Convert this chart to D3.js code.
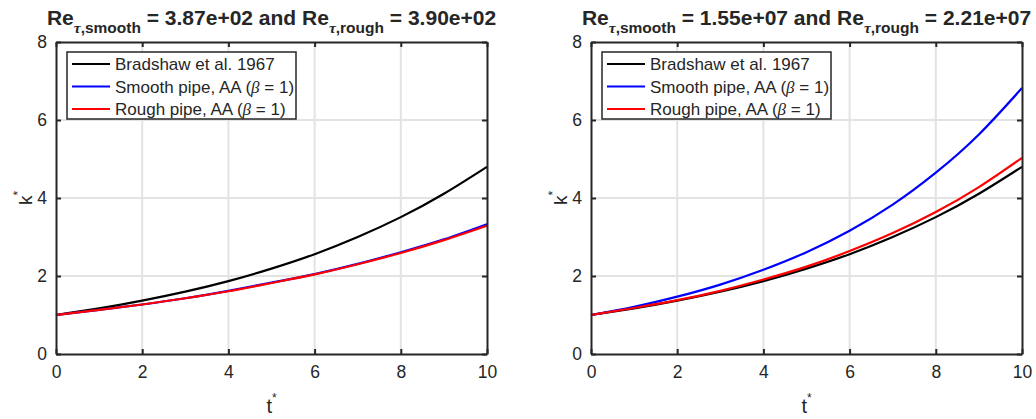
<!DOCTYPE html>
<html>
<head>
<meta charset="utf-8">
<script src="https://cdn.jsdelivr.net/npm/d3@7"></script>
<style>
	body { margin: 0; background: #fff; }
	text { font-family: "Liberation Sans", Arial, Helvetica, sans-serif; fill: #262626; }
</style>
</head>
<body>
<div id="chart-area"></div>
<script>
// data (t* = 0..10)
var tStar = [0, 1, 2, 3, 4, 5, 6, 7, 8, 9, 10];
var bradshaw = [1.00, 1.17, 1.37, 1.60, 1.87, 2.19, 2.56, 3.00, 3.51, 4.11, 4.80];
var smoothLow = [1.00, 1.13, 1.27, 1.43, 1.62, 1.83, 2.05, 2.31, 2.61, 2.94, 3.33];
var roughLow = [1.00, 1.13, 1.27, 1.43, 1.61, 1.82, 2.04, 2.30, 2.59, 2.92, 3.29];
var smoothHigh = [1.00, 1.21, 1.47, 1.78, 2.16, 2.61, 3.16, 3.83, 4.65, 5.63, 6.82];
var roughHigh = [1.00, 1.18, 1.38, 1.62, 1.91, 2.24, 2.64, 3.10, 3.64, 4.28, 5.03];

var reSmooth = ["3.87e+02", "1.55e+07"];
var reRough = ["3.90e+02", "2.21e+07"];

var xTicks = [0, 2, 4, 6, 8, 10];
var yTicks = [0, 2, 4, 6, 8];

var legendLabels = ["Bradshaw et al. 1967", "Smooth pipe, AA (", "Rough pipe, AA ("];
var lineColors = ["#000000", "#0000ff", "#ff0000"];

var panelSeries = [
	[bradshaw, smoothLow, roughLow],
	[bradshaw, smoothHigh, roughHigh]
];

var width = 431, height = 312;
var panelLeft = [56, 591], panelTop = 42;

var svg = d3.select("#chart-area")
	.append("svg")
		.attr("width", 1036)
		.attr("height", 419);

var x = d3.scaleLinear().domain([0, 10]).range([0, width]);
var y = d3.scaleLinear().domain([0, 8]).range([height, 0]);

var line = d3.line()
	.x(function(d){ return x(d[0]); })
	.y(function(d){ return y(d[1]); })
	.curve(d3.curveNatural);

panelSeries.forEach(function(series, p){
	var g = svg.append("g")
		.attr("transform", "translate(" + panelLeft[p] + ", " + panelTop + ")");

	//grid
	g.selectAll(".gx").data(xTicks.slice(1, -1)).enter().append("line")
		.attr("x1", function(d){ return x(d); }).attr("x2", function(d){ return x(d); })
		.attr("y1", 0).attr("y2", height)
		.attr("stroke", "#e3e3e3").attr("stroke-width", 2);
	g.selectAll(".gy").data(yTicks.slice(1, -1)).enter().append("line")
		.attr("y1", function(d){ return y(d); }).attr("y2", function(d){ return y(d); })
		.attr("x1", 0).attr("x2", width)
		.attr("stroke", "#e3e3e3").attr("stroke-width", 2);

	//curves
	series.forEach(function(vals, i){
		g.append("path")
			.datum(tStar.map(function(t, j){ return [t, vals[j]]; }))
			.attr("fill", "none")
			.attr("stroke", lineColors[i])
			.attr("stroke-width", 2.2)
			.attr("d", line);
	});

	//axes (MATLAB style box, ticks inward)
	var xAxis = g.append("g").attr("transform", "translate(0, " + height + ")")
		.call(d3.axisBottom(x).tickValues(xTicks).tickSizeInner(-5).tickSizeOuter(0).tickPadding(12));
	var xTop = g.append("g")
		.call(d3.axisTop(x).tickValues(xTicks).tickSizeInner(-5).tickSizeOuter(0).tickFormat(""));
	var yAxis = g.append("g")
		.call(d3.axisLeft(y).tickValues(yTicks).tickSizeInner(-5).tickSizeOuter(0).tickPadding(9));
	var yRight = g.append("g").attr("transform", "translate(" + width + ", 0)")
		.call(d3.axisRight(y).tickValues(yTicks).tickSizeInner(-5).tickSizeOuter(0).tickFormat(""));

	[xAxis, xTop, yAxis, yRight].forEach(function(a){
		a.select(".domain").attr("stroke", "#262626").attr("stroke-width", 2);
		a.selectAll(".tick line").attr("stroke", "#262626").attr("stroke-width", 2);
		a.selectAll("text").attr("font-size", 17.5).attr("fill", "#262626")
			.style("font-family", "'Liberation Sans', Arial, sans-serif");
	});

	//labels
	var xLabel = g.append("text")
		.attr("x", width / 2)
		.attr("y", height + 59)
		.attr("text-anchor", "middle")
		.attr("font-size", 20);
	xLabel.append("tspan").text("t");
	xLabel.append("tspan").attr("dy", -11).attr("font-size", 12).text("*");

	var yLabel = g.append("text")
		.attr("transform", "rotate(-90)")
		.attr("x", -height / 2)
		.attr("y", -24)
		.attr("text-anchor", "middle")
		.attr("font-size", 19);
	yLabel.append("tspan").text("k");
	yLabel.append("tspan").attr("dy", -10).attr("font-size", 12).text("*");

	//title
	var title = g.append("text")
		.attr("x", width / 2)
		.attr("y", -17)
		.attr("text-anchor", "middle")
		.attr("font-size", 21)
		.attr("font-weight", "bold");
	title.append("tspan").text("Re");
	title.append("tspan").attr("dy", 8).attr("font-size", 15.5).attr("font-style", "italic")
		.style("font-family", "'Liberation Serif', serif").text("\u03c4");
	title.append("tspan").attr("font-size", 15.5).text(",smooth");
	title.append("tspan").attr("dy", -8).text(" = " + reSmooth[p] + " and Re");
	title.append("tspan").attr("dy", 8).attr("font-size", 15.5).attr("font-style", "italic")
		.style("font-family", "'Liberation Serif', serif").text("\u03c4");
	title.append("tspan").attr("font-size", 15.5).text(",rough");
	title.append("tspan").attr("dy", -8).text(" = " + reRough[p]);

	//legend
	var legend = g.append("g").attr("transform", "translate(11, 10)");
	legend.append("rect")
		.attr("width", 229).attr("height", 67)
		.attr("fill", "#fff").attr("stroke", "#262626").attr("stroke-width", 1.5);
	legendLabels.forEach(function(label, i){
		var ry = 12 + i * 22.5;
		legend.append("line")
			.attr("x1", 5).attr("x2", 43).attr("y1", ry).attr("y2", ry)
			.attr("stroke", lineColors[i]).attr("stroke-width", 2.2);
		var t = legend.append("text")
			.attr("x", 48).attr("y", ry).attr("dy", "0.36em")
			.attr("font-size", 17);
		t.append("tspan").text(label);
		if (i > 0) {
			t.append("tspan").attr("font-style", "italic")
				.style("font-family", "'Liberation Serif', serif").text("\u03b2");
			t.append("tspan").text(" = 1)");
		}
	});
});
</script>
</body>
</html>
